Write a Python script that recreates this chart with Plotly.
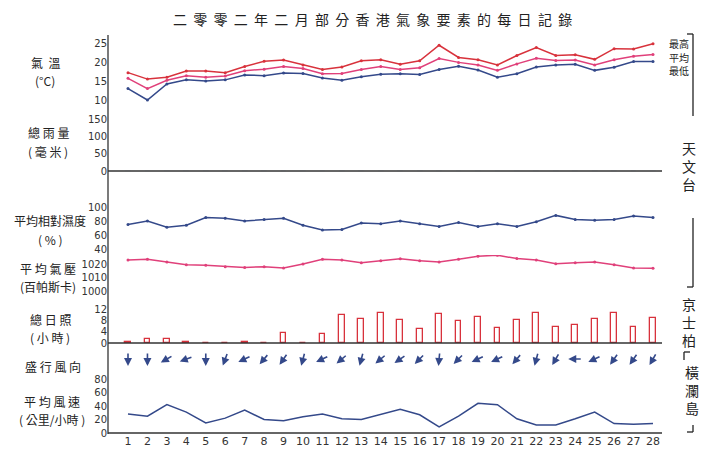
import math
import plotly.graph_objects as go

days = list(range(1, 29))
temp_max = [17.2,15.5,16,17.6,17.6,17.2,18.8,20.2,20.5,19.2,18,18.7,20.3,20.6,19.4,20.3,24.4,21.2,20.6,19.2,21.7,23.8,21.7,21.9,20.7,23.5,23.4,24.8]
temp_mean = [15.7,13,15.2,16.4,16,16.3,17.7,18.1,18.8,18.3,16.9,17.0,18.0,18.8,18.0,18.5,20.9,19.9,19.2,17.8,19.5,21,20.4,20.5,19.2,20.6,21.5,22]
temp_min = [13,10,14.2,15.3,15,15.3,16.6,16.4,17.1,17.0,15.8,15.2,16.1,16.8,16.9,16.7,18,18.9,17.9,16,16.9,18.7,19.2,19.4,17.8,18.6,20.1,20.1]
rain = [0,0.8,0,0,0.8,0,0,0,0,0,0,0,0,0,0,0,0,0,0,0,0,0,0,0,0,0,0,0]
humidity = [75,80,71,74,85,84,80,82,84,74,67,68,77,76,80,76,72,78,72,76,72,79,88,82,81,82,87,85]
pressure = [1023,1023.5,1021.5,1019.5,1019,1018,1017.5,1018,1017,1020,1023.5,1023,1021,1022.5,1023.8,1022.5,1021.5,1023.5,1025.8,1026.5,1024,1023,1020.2,1021,1021.5,1019.5,1017,1016.8]
sunshine = [0.3,1.3,1.3,0.5,0,0,0.5,0,3.7,0,3.2,10,8.5,10.5,8.2,4.8,10.2,7.6,9.2,5.2,8,10.7,5.6,6.3,8.5,10.7,5.8,9]
wind_dir = [0,0,60,70,0,20,65,40,35,15,65,50,15,50,55,45,5,45,65,65,40,15,30,90,65,35,35,30]
wind_speed = [28,25,42,31,15,22,34,20,18,24,28,21,20,28,35,27,9,25,44,42,21,12,12,21,31,14,13,14]

W, H = 705, 459
X0, X1 = 108, 662
PXDAY = 19.44
def py(p): return 1 - p / H
def px(p): return p / W
def rng(v1, p1, v2, p2, top, bot):
    s = (v1 - v2) / (p2 - p1)
    return [v2 - (bot - p2) * s, v1 + (p1 - top) * s]

RED, PINK, BLUE = "#d8323c", "#e0407a", "#34498a"
tf = dict(size=10, color="#333", family="DejaVu Sans")
fig = go.Figure()
mk = dict(size=3)
fig.add_trace(go.Scatter(x=days, y=temp_max, mode="lines+markers", line=dict(color=RED, width=1.5), marker=mk, yaxis="y"))
fig.add_trace(go.Scatter(x=days, y=temp_mean, mode="lines+markers", line=dict(color=PINK, width=1.5), marker=mk, yaxis="y"))
fig.add_trace(go.Scatter(x=days, y=temp_min, mode="lines+markers", line=dict(color=BLUE, width=1.5), marker=mk, yaxis="y"))
fig.add_trace(go.Bar(x=days, y=rain, width=0.3, marker=dict(color="#222"), yaxis="y2"))
fig.add_trace(go.Scatter(x=days, y=humidity, mode="lines+markers", line=dict(color=BLUE, width=1.5), marker=mk, yaxis="y3"))
fig.add_trace(go.Scatter(x=days, y=pressure, mode="lines+markers", line=dict(color=PINK, width=1.5), marker=mk, yaxis="y4"))
fig.add_trace(go.Bar(x=days, y=sunshine, width=0.3, marker=dict(color="rgba(0,0,0,0)", line=dict(color=RED, width=1.3)), yaxis="y5"))
fig.add_trace(go.Scatter(x=days, y=wind_speed, mode="lines", line=dict(color=BLUE, width=1.5), yaxis="y6"))

def yax(dom_top, dom_bot, r, tv):
    return dict(domain=[py(dom_bot), py(dom_top)], range=r, tickvals=tv, showgrid=False, zeroline=False,
                showline=False, ticks="", tickfont=tf, anchor="x", automargin=False)

layout = dict(
    width=W, height=H, margin=dict(l=0, r=0, t=0, b=0, pad=0), paper_bgcolor="white", plot_bgcolor="rgba(0,0,0,0)",
    showlegend=False, bargap=0,
    xaxis=dict(domain=[px(X0), px(X1)], range=[1 - 20 / PXDAY, 28 + 9 / PXDAY], tickvals=days, ticks="", automargin=False,
               showgrid=False, zeroline=False, showline=False, anchor="y6", tickfont=dict(size=11, color="#333", family="DejaVu Sans")),
    yaxis=yax(33, 108, rng(25, 43, 10, 100, 33, 108), [10, 15, 20, 25]),
    yaxis2=yax(113, 172, rng(150, 119, 0, 171, 113, 172), [0, 50, 100, 150]),
    yaxis3=yax(195, 255, rng(100, 207, 40, 249, 195, 255), [40, 60, 80, 100]),
    yaxis4=yax(255, 295, rng(1020, 264, 1000, 291, 255, 295), [1000, 1010, 1020]),
    yaxis5=yax(300, 343, rng(12, 309, 0, 343, 300, 343), [0, 4, 8, 12]),
    yaxis6=yax(370, 433, rng(80, 379, 0, 433, 370, 433), [0, 20, 40, 60, 80]),
)
fig.update_layout(**layout)

shapes = [dict(type="line", xref="paper", yref="paper", x0=px(X0), x1=px(X0), y0=py(35), y1=py(434), line=dict(color="#222", width=1.2))]
for yy in [171, 343, 433]:
    shapes.append(dict(type="line", xref="paper", yref="paper", x0=px(X0), x1=px(X1), y0=py(yy), y1=py(yy), line=dict(color="#333", width=1.5)))
def seg(x0, y0, x1, y1):
    shapes.append(dict(type="line", xref="paper", yref="paper", x0=px(x0), x1=px(x1), y0=py(y0), y1=py(y1), line=dict(color="#222", width=1.3)))
seg(693, 34, 693, 116); seg(687, 34, 693, 34)
seg(693, 218, 693, 287); seg(693, 287, 687, 287)
seg(684, 352, 684, 360); seg(684, 352, 690, 352)
seg(693, 425, 693, 432); seg(693, 432, 687, 432)
fig.update_layout(shapes=shapes)

ann = []
def txt(x, y, t, size=12, **k):
    ann.append(dict(x=px(x), y=py(y), xref="paper", yref="paper", text=t, showarrow=False,
                    xanchor="center", yanchor="middle",
                    font=dict(size=size, color="#222", family="Noto Sans CJK TC"), **k))
txt(372, 19, "二  零  零  二  年  二  月  部  分  香  港  氣  象  要  素  的  每  日  記  錄", 14)
txt(45, 62, "氣  溫"); txt(45, 80, "(°C)")
txt(48, 132, "總 雨 量"); txt(48, 151, "( 毫 米 )")
txt(50, 220, "平均相對濕度"); txt(50, 239, "( % )")
txt(48, 268, "平 均 氣 壓"); txt(48, 286, "(百帕斯卡)")
txt(50, 319, "總 日 照"); txt(50, 337, "( 小 時 )")
txt(53, 366, "盛 行 風 向")
txt(52, 401, "平 均 風 速"); txt(52, 419, "( 公里/小時 )")
txt(679, 43, "最高", 10); txt(679, 57, "平均", 10); txt(679, 71, "最低", 10)
txt(689, 166, "天<br>文<br>台", 14)
txt(689, 322, "京<br>士<br>柏", 14)
txt(692, 390, "橫<br>瀾<br>島", 14)

L = 14
for d, deg in zip(days, wind_dir):
    r = math.radians(deg)
    tx, ty = L * math.sin(r), -L * math.cos(r)
    hx_pix, hy_pix = -tx / 2, 359 - ty / 2
    ann.append(dict(x=d + hx_pix / PXDAY, y=py(hy_pix), xref="x", yref="paper", ax=tx, ay=ty, text="",
                    showarrow=True, arrowhead=2, arrowsize=1, arrowwidth=1.6, arrowcolor=BLUE))
fig.update_layout(annotations=ann)
fig.write_html("out.html", config={"responsive": False, "displayModeBar": False},
               post_script="document.body.style.margin='0';document.body.style.overflow='hidden';")
